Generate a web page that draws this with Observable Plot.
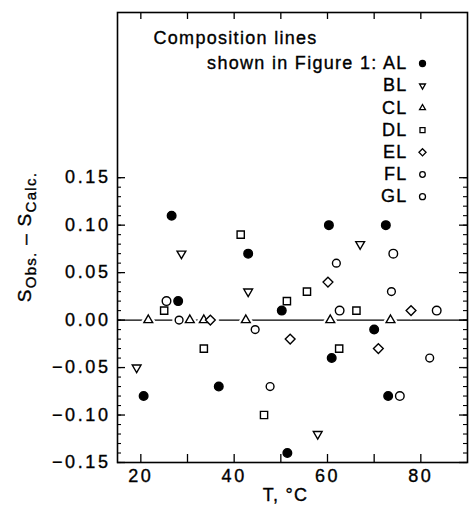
<!DOCTYPE html>
<html><head><meta charset="utf-8">
<script src="https://cdn.jsdelivr.net/npm/d3@7"></script>
<script src="https://cdn.jsdelivr.net/npm/@observablehq/plot@0.6"></script>
<style>
body{margin:0;background:#fff;}
#chart svg text{letter-spacing:1.3px;stroke:black;stroke-width:0.35px;}
#chart svg g[aria-label="y-axis tick label"] text,
#chart svg g[aria-label="x-axis tick label"] text{letter-spacing:2.6px;}
</style></head><body><div id="chart"></div><script>
// Data
const seriesNames = ["AL","BL","CL","DL","EL","FL","GL"];
const AL_T = [20.6, 26.6, 28.0, 36.7, 43.0, 50.2, 51.4, 60.3, 60.9, 70.0, 72.5, 73.0];
const AL_S = [-0.08, 0.11, 0.02, -0.07, 0.07, 0.01, -0.14, 0.10, -0.04, -0.01, 0.10, -0.08];
const BL_T = [19.1, 28.7, 43.0, 57.9, 67.0];
const BL_S = [-0.05, 0.07, 0.03, -0.12, 0.08];
const CL_T = [21.6, 30.5, 33.5, 42.5, 60.6, 73.5];
const CL_S = [0, 0, 0, 0, 0, 0];
const DL_T = [25.0, 33.5, 41.4, 46.4, 51.3, 55.6, 62.5, 66.2];
const DL_S = [0.01, -0.03, 0.09, -0.10, 0.02, 0.03, -0.03, 0.01];
const EL_T = [34.9, 52.0, 60.1, 70.9, 77.9];
const EL_S = [0, -0.02, 0.04, -0.03, 0.01];
const FL_T = [28.2, 44.5, 47.7, 61.9, 73.7, 81.9];
const FL_S = [0, -0.01, -0.07, 0.06, 0.03, -0.04];
const GL_T = [25.5, 62.6, 74.1, 75.5, 83.4];
const GL_S = [0.02, 0.01, 0.07, -0.08, 0.01];
const xTickLabels = [20, 40, 60, 80];
const xMinorTicks = [30, 50, 70];
const yTickLabels = [-0.15, -0.10, -0.05, 0.00, 0.05, 0.10, 0.15];
const yMinorTicks = d3.range(-15, 16).map(v => v / 100);
const legendTitle = ["Composition lines", "shown in Figure 1:"];
const xLabel = "T, °C";

const triangleDown = {draw(ctx, size) {
  const s = Math.sqrt(size) * 0.6824, t = s * 0.5, u = s * Math.sqrt(3) / 2;
  ctx.moveTo(0, s); ctx.lineTo(u, -t); ctx.lineTo(-u, -t); ctx.closePath();
}};
const cols = [[AL_T,AL_S],[BL_T,BL_S],[CL_T,CL_S],[DL_T,DL_S],[EL_T,EL_S],[FL_T,FL_S],[GL_T,GL_S]];
const styles = [
  {symbol:"circle", fill:"black", r:4.3, lr:3},
  {symbol:triangleDown, fill:"white", r:4.2, lr:2.8},
  {symbol:"triangle2", fill:"white", r:4.2, lr:2.8},
  {symbol:"square2", fill:"white", r:4.6, lr:3.2},
  {symbol:"diamond2", fill:"white", r:4.4, lr:3.2},
  {symbol:"circle", fill:"white", r:3.9, lr:2.8},
  {symbol:"circle", fill:"white", r:4.3, lr:3.0}
];
const series = seriesNames.map((name, i) => ({
  name, ...styles[i],
  data: cols[i][0].map((t, j) => ({T: t, S: cols[i][1][j]}))
}));

const W = 470, H = 505, mL = 117, mR = 3, mT = 12, mB = 43;
const fw = W - mL - mR, fh = H - mT - mB;
const font = "Liberation Sans, Arial, Helvetica, sans-serif";

const marks = [
  Plot.ruleY([0], {stroke: "black", strokeWidth: 1.3}),
  ...series.map(s => Plot.dot(s.data, {x: "T", y: "S", symbol: s.symbol, r: s.r, fill: "white", stroke: "white", strokeWidth: 6})),
  ...series.map(s => Plot.dot(s.data, {x: "T", y: "S", symbol: s.symbol, r: s.r, fill: s.fill, stroke: "black", strokeWidth: 1.4})),
  // inward ticks
  Plot.tickX([...xTickLabels, ...xMinorTicks], {x: d => d, insetTop: fh - 8, stroke: "black", strokeWidth: 1.3}),
  Plot.tickX([...xTickLabels, ...xMinorTicks], {x: d => d, insetBottom: fh - 7, stroke: "black", strokeWidth: 1.3}),
  Plot.tickY(yTickLabels, {y: d => d, insetRight: fw - 8, stroke: "black", strokeWidth: 1.3}),
  Plot.tickY(yMinorTicks, {y: d => d, insetRight: fw - 4, stroke: "black", strokeWidth: 1.1}),
  Plot.tickY(yTickLabels, {y: d => d, insetLeft: fw - 8, stroke: "black", strokeWidth: 1.3}),
  Plot.tickY(yMinorTicks, {y: d => d, insetLeft: fw - 4, stroke: "black", strokeWidth: 1.1}),
  Plot.frame({stroke: "black", strokeWidth: 1.6}),
  Plot.axisY(yTickLabels, {tickSize: 0, tickPadding: 7, tickFormat: d3.format(".2f"), fontSize: 18, label: null}),
  Plot.axisX(xTickLabels, {tickSize: 0, tickPadding: 7, fontSize: 18, label: null}),
  Plot.text([xLabel], {text: d => d, frameAnchor: "bottom", dx: -7, dy: 33, fontSize: 18, lineAnchor: "middle"}),
  Plot.text([legendTitle[0]], {text: d => d, frameAnchor: "top-left", dx: 36, dy: 26, textAnchor: "start", fontSize: 18, lineAnchor: "middle"}),
  ...series.map((s, i) => Plot.text([i === 0 ? legendTitle[1] + " " + s.name : s.name], {text: d => d, frameAnchor: "top-right", dx: -60, dy: 51 + i * 22.2, textAnchor: "end", fontSize: 18, lineAnchor: "middle"})),
  ...series.map((s, i) => Plot.dot([0], {frameAnchor: "top-right", dx: -45, dy: 51 + i * 22.2, symbol: s.symbol, r: s.lr, fill: s.fill, stroke: "black", strokeWidth: 1.3}))
];

const chart = Plot.plot({
  width: W, height: H,
  marginLeft: mL, marginRight: mR, marginTop: mT, marginBottom: mB,
  x: {domain: [15, 90]},
  y: {domain: [-0.15, 0.324]},
  style: {fontFamily: font, fontSize: "18px", color: "black", background: "white"},
  marks
});
document.getElementById("chart").appendChild(chart);

// y-axis label with subscripts
const svg = d3.select(chart);
const yl = svg.append("text")
  .attr("transform", `translate(31, ${mT + 225}) rotate(-90)`)
  .attr("text-anchor", "middle")
  .attr("font-family", font)
  .attr("font-size", 19)
  .attr("fill", "black");
yl.append("tspan").text("S");
yl.append("tspan").attr("dy", 5).attr("font-size", 15).text("Obs.");
yl.append("tspan").attr("dy", -5).text(" \u2013 S");
yl.append("tspan").attr("dy", 5).attr("font-size", 15).text("Calc.");
</script></body></html>
